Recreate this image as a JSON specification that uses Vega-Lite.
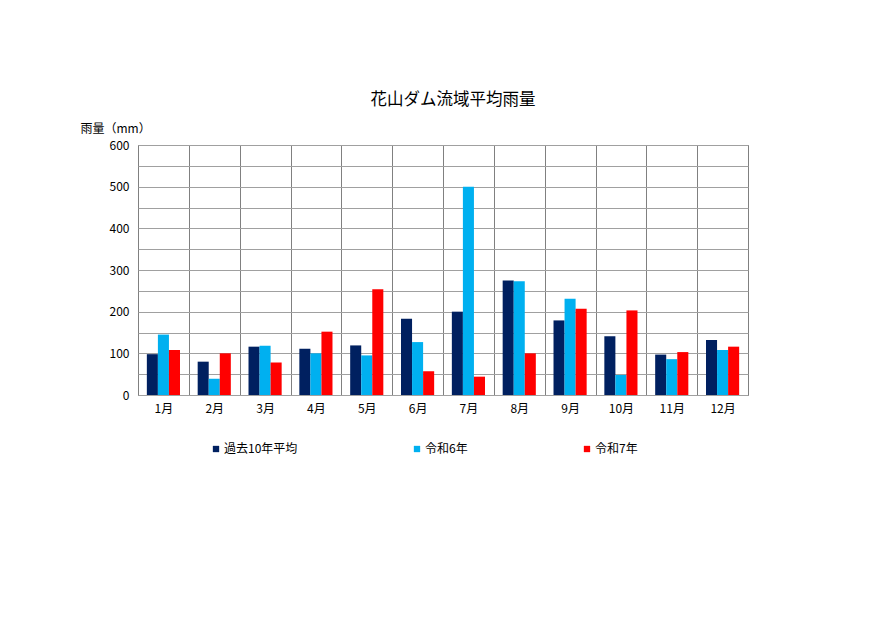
{
  "$schema": "https://vega.github.io/schema/vega-lite/v6.json",
  "autosize": "none",
  "padding": {"left": 138, "top": 145, "right": 142, "bottom": 235},
  "width": 610,
  "height": 250,
  "background": "white",
  "config": {
    "font": "Noto Sans CJK JP",
    "view": {"stroke": "#808080", "strokeWidth": 1}
  },
  "title": {
    "text": "花山ダム流域平均雨量",
    "fontSize": 16.5,
    "fontWeight": "normal",
    "color": "#000000",
    "offset": 14,
    "dx": 10
  },
  "data": {
    "values": [
      {"month": "1月", "series": "過去10年平均", "rain": 98},
      {"month": "1月", "series": "令和6年", "rain": 145},
      {"month": "1月", "series": "令和7年", "rain": 108},
      {"month": "2月", "series": "過去10年平均", "rain": 80},
      {"month": "2月", "series": "令和6年", "rain": 39},
      {"month": "2月", "series": "令和7年", "rain": 100},
      {"month": "3月", "series": "過去10年平均", "rain": 116},
      {"month": "3月", "series": "令和6年", "rain": 118},
      {"month": "3月", "series": "令和7年", "rain": 78},
      {"month": "4月", "series": "過去10年平均", "rain": 111},
      {"month": "4月", "series": "令和6年", "rain": 100},
      {"month": "4月", "series": "令和7年", "rain": 152},
      {"month": "5月", "series": "過去10年平均", "rain": 119},
      {"month": "5月", "series": "令和6年", "rain": 95},
      {"month": "5月", "series": "令和7年", "rain": 254},
      {"month": "6月", "series": "過去10年平均", "rain": 183},
      {"month": "6月", "series": "令和6年", "rain": 127},
      {"month": "6月", "series": "令和7年", "rain": 57},
      {"month": "7月", "series": "過去10年平均", "rain": 200},
      {"month": "7月", "series": "令和6年", "rain": 500},
      {"month": "7月", "series": "令和7年", "rain": 44},
      {"month": "8月", "series": "過去10年平均", "rain": 275},
      {"month": "8月", "series": "令和6年", "rain": 273},
      {"month": "8月", "series": "令和7年", "rain": 100},
      {"month": "9月", "series": "過去10年平均", "rain": 179},
      {"month": "9月", "series": "令和6年", "rain": 231},
      {"month": "9月", "series": "令和7年", "rain": 207},
      {"month": "10月", "series": "過去10年平均", "rain": 141},
      {"month": "10月", "series": "令和6年", "rain": 48},
      {"month": "10月", "series": "令和7年", "rain": 203},
      {"month": "11月", "series": "過去10年平均", "rain": 97},
      {"month": "11月", "series": "令和6年", "rain": 86},
      {"month": "11月", "series": "令和7年", "rain": 103},
      {"month": "12月", "series": "過去10年平均", "rain": 132},
      {"month": "12月", "series": "令和6年", "rain": 108},
      {"month": "12月", "series": "令和7年", "rain": 116}
    ]
  },
  "mark": {"type": "bar"},
  "encoding": {
    "x": {
      "field": "month",
      "type": "ordinal",
      "sort": ["1月", "2月", "3月", "4月", "5月", "6月", "7月", "8月", "9月", "10月", "11月", "12月"],
      "scale": {"paddingInner": 0, "paddingOuter": 0},
      "axis": {
        "title": null,
        "labelAngle": 0,
        "tickBand": "extent",
        "grid": true,
        "gridColor": "#808080",
        "gridWidth": 1,
        "ticks": false,
        "domain": false,
        "labelFontSize": 12,
        "labelColor": "#000000",
        "labelPadding": 8
      }
    },
    "xOffset": {
      "field": "series",
      "sort": ["過去10年平均", "令和6年", "令和7年"],
      "scale": {"paddingInner": 0, "paddingOuter": 0.8}
    },
    "y": {
      "field": "rain",
      "type": "quantitative",
      "scale": {"domain": [0, 600], "nice": false},
      "axis": {
        "title": "雨量（mm）",
        "titleAngle": 0,
        "titleAlign": "left",
        "titleBaseline": "middle",
        "titleX": -58,
        "titleY": -17,
        "titleFontSize": 12,
        "titleFontWeight": "normal",
        "titleColor": "#000000",
        "values": [0, 50, 100, 150, 200, 250, 300, 350, 400, 450, 500, 550, 600],
        "labelExpr": "datum.value % 100 == 0 ? datum.label : ''",
        "grid": true,
        "gridColor": "#a0a0a0",
        "ticks": false,
        "domain": false,
        "labelFontSize": 12,
        "labelColor": "#000000",
        "labelPadding": 9
      }
    },
    "color": {
      "field": "series",
      "type": "nominal",
      "scale": {
        "domain": ["過去10年平均", "令和6年", "令和7年"],
        "range": ["#002060", "#00b0f0", "#ff0000"]
      },
      "legend": {
        "title": null,
        "orient": "none",
        "direction": "horizontal",
        "legendX": 72,
        "legendY": 298,
        "symbolType": "square",
        "symbolSize": 40,
        "symbolStrokeWidth": 0,
        "labelFontSize": 12,
        "labelColor": "#000000",
        "labelOffset": 2,
        "columnPadding": 113
      }
    }
  }
}
